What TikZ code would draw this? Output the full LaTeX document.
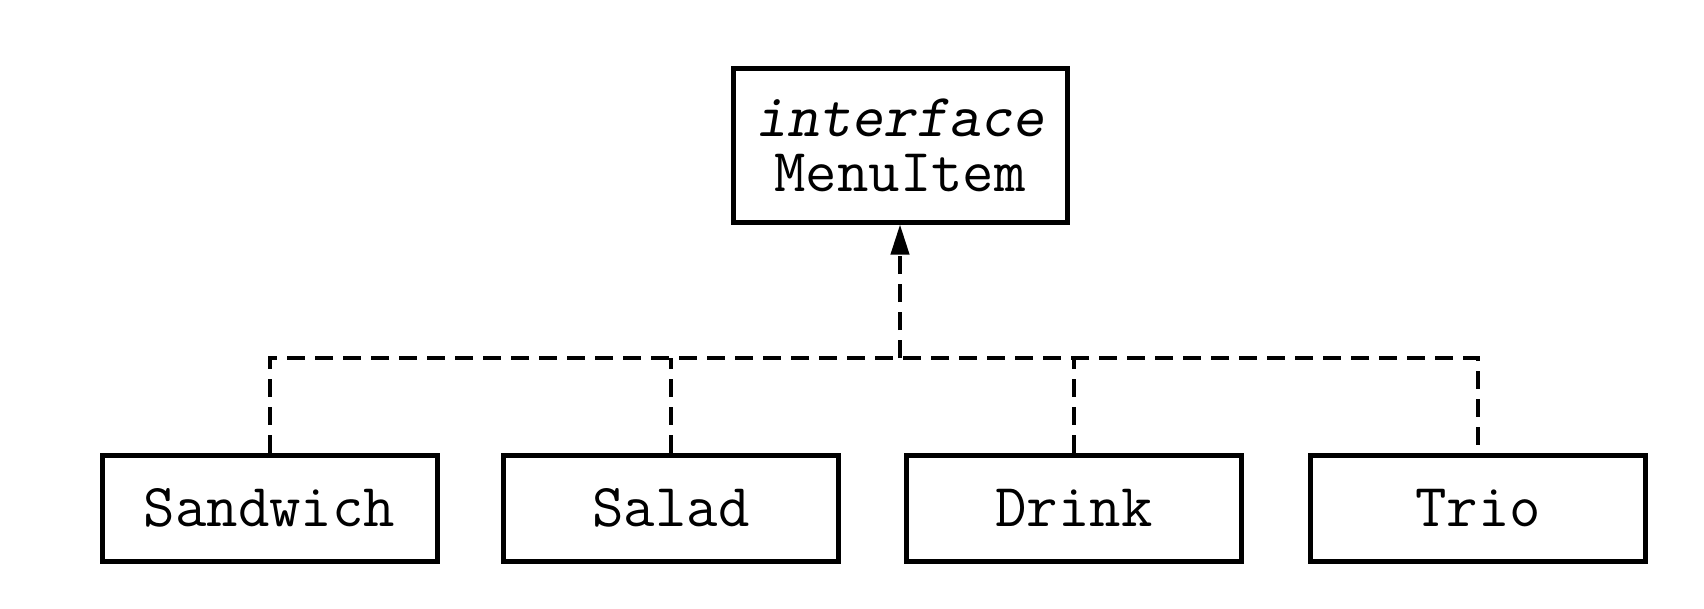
\documentclass[tikz,border=0pt]{standalone}
\usetikzlibrary{arrows.meta}
\begin{document}
\begin{tikzpicture}[x=1pt,y=-1pt,
  umlbox/.style={draw, line width=5pt, inner sep=0pt, font=\ttfamily\fontsize{61}{55}\selectfont, align=center},
  conn/.style={line width=4pt, dash pattern=on 18pt off 10pt}]
\useasboundingbox (0,0) rectangle (1704,608);
\node[umlbox, minimum width=334pt, minimum height=154pt] (mi) at (900,145) {\textsl{interface}\\MenuItem};
\node[umlbox, minimum width=335pt, minimum height=106pt] (sw) at (269.5,508) {Sandwich};
\node[umlbox, minimum width=335pt, minimum height=106pt] (sa) at (671,508) {Salad};
\node[umlbox, minimum width=335pt, minimum height=106pt] (dr) at (1074,508) {Drink};
\node[umlbox, minimum width=335pt, minimum height=106pt] (tr) at (1478,508) {Trio};
\coordinate (hub) at (900,358);
\draw[conn] (sw.north) |- (hub) -| (tr.north);
\draw[conn] (sa.north) -- (sa.north |- hub);
\draw[conn] (dr.north) -- (dr.north |- hub);
\draw[conn, -{Triangle[length=30pt,width=18pt]}] (hub) -- (mi.south);
\end{tikzpicture}
\end{document}
